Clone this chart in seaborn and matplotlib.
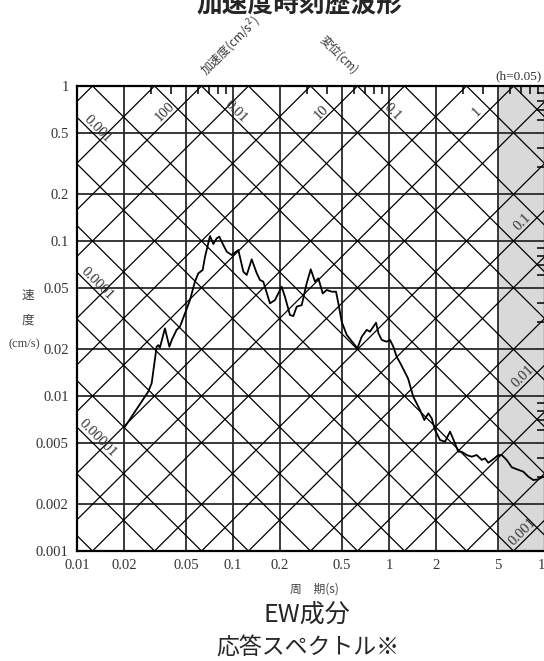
import numpy as np
import pandas as pd
import matplotlib
matplotlib.use('Agg')
import matplotlib.pyplot as plt
from matplotlib.ticker import LogLocator, NullFormatter
import seaborn as sns

# velocity response spectrum (h=0.05)
period = [0.0203, 0.0286, 0.0301, 0.0324, 0.0332, 0.0340, 0.0366, 0.0391, 0.0405, 0.0435,
          0.0457, 0.0492, 0.0530, 0.0570, 0.0599, 0.0639, 0.0662, 0.0712, 0.0748, 0.0786,
          0.0817, 0.0867, 0.0912, 0.0982, 0.1082, 0.1165, 0.1225, 0.1318, 0.1419, 0.1489,
          0.1564, 0.1726, 0.1858, 0.205, 0.2153, 0.2318, 0.2437, 0.256, 0.2757, 0.2967,
          0.315, 0.3354, 0.3526, 0.376, 0.399, 0.4297, 0.4576, 0.4735, 0.4977, 0.5357,
          0.5907, 0.6266, 0.6683, 0.7195, 0.7551, 0.8258, 0.856, 0.898, 0.966, 1.015,
          1.066, 1.12, 1.177, 1.324, 1.431, 1.58, 1.684, 1.786, 1.878, 1.972,
          2.124, 2.287, 2.462, 2.65, 2.78, 2.92, 3.15, 3.39, 3.65, 3.93,
          4.12, 4.33, 4.66, 5.02, 5.28, 5.68, 6.12, 6.59, 7.26, 7.82,
          8.41, 9.06, 9.75]
velocity = [0.00634, 0.01066, 0.01208, 0.0208, 0.0213, 0.0205, 0.0273, 0.0208, 0.0230, 0.0267,
            0.0280, 0.0341, 0.0416, 0.0547, 0.0618, 0.0650, 0.0792, 0.1077, 0.0957, 0.104,
            0.1066, 0.0942, 0.0853, 0.0812, 0.0875, 0.0634, 0.0604, 0.0762, 0.062, 0.056,
            0.0547, 0.0396, 0.0416, 0.0507, 0.0437, 0.0333, 0.0328, 0.0377, 0.0386, 0.0533,
            0.0657, 0.0547, 0.0574, 0.0459, 0.0483, 0.0471, 0.0471, 0.0396, 0.0301, 0.0248,
            0.0219, 0.0203, 0.0241, 0.0267, 0.0260, 0.0297, 0.0254, 0.0230, 0.0224, 0.0230,
            0.0208, 0.0179, 0.0164, 0.0130, 0.00989, 0.00813, 0.0070, 0.00773, 0.00718, 0.00604,
            0.0052, 0.00507, 0.00589, 0.00495, 0.00437, 0.00437, 0.00416, 0.00406, 0.00416, 0.00387,
            0.00396, 0.00371, 0.00391, 0.00416, 0.00416, 0.00387, 0.00347, 0.00337, 0.00325, 0.00302,
            0.00287, 0.0029, 0.00302]

x_ticks = [0.01, 0.02, 0.05, 0.1, 0.2, 0.5, 1, 2, 5, 10]
x_tick_labels = ['0.01', '0.02', '0.05', '0.1', '0.2', '0.5', '1', '2', '5', '10']
y_ticks = [0.001, 0.002, 0.005, 0.01, 0.02, 0.05, 0.1, 0.2, 0.5, 1]
y_tick_labels = ['0.001', '0.002', '0.005', '0.01', '0.02', '0.05', '0.1', '0.2', '0.5', '1']

# tripartite diagonals: acceleration (cm/s^2) and displacement (cm)
accel_lines = [m * 10.0 ** k for k in range(-4, 3) for m in (1, 2, 5)]
disp_lines = [m * 10.0 ** k for k in range(-6, 1) for m in (1, 2, 5)]
accel_top = [100, 10, 1]
accel_top_labels = ['100', '10', '1']
accel_right = [0.1, 0.01, 0.001]
accel_right_labels = ['0.1', '0.01', '0.001']
disp_left = [0.001, 0.0001, 0.00001]
disp_left_labels = ['0.001', '0.0001', '0.00001']
disp_top = [0.01, 0.1]
disp_top_labels = ['0.01', '0.1']

df = pd.DataFrame({'period': period, 'velocity': velocity})

sns.set_style('white')
plt.rcParams['font.family'] = ['Liberation Serif', 'Noto Sans CJK JP', 'DejaVu Sans']
jp = ['Noto Sans CJK JP', 'DejaVu Sans']

W, H = 544, 661
fig = plt.figure(figsize=(W / 100, H / 100), dpi=100)
ax = fig.add_axes([77 / W, 1 - 551 / H, (545 - 77) / W, (551 - 86) / H])
ax.set_xscale('log')
ax.set_yscale('log')
ax.set_xlim(0.01, 10)
ax.set_ylim(0.001, 1)

ax.axvspan(5, 10, color='#d9d9d9', zorder=0.2, lw=0)

# horizontal / vertical grid
for t in x_ticks[1:-1]:
    ax.axvline(t, color='#2a2a2a', lw=1.3, zorder=1)
for v in y_ticks[1:-1]:
    ax.axhline(v, color='#2a2a2a', lw=1.3, zorder=1)

T = np.array([0.01, 10.0])
for a in accel_lines:
    ax.plot(T, a * T / (2 * np.pi), color='black', lw=0.9, zorder=1.5)
for d in disp_lines:
    ax.plot(T, 2 * np.pi * d / T, color='black', lw=0.9, zorder=1.5)

lab_kw = dict(fontsize=10.5, color='#333333', ha='center', va='center', rotation_mode='anchor', zorder=3)
for a, s in zip(accel_top, accel_top_labels):
    sv = 0.68
    ax.text(2 * np.pi * sv / a / 1.16, sv, s, rotation=45, **lab_kw)
for a, s in zip(accel_right, accel_right_labels):
    t = 7.2
    ax.text(t, a * t / (2 * np.pi) * 1.16, s, rotation=45, **lab_kw)
for d, s in zip(disp_left, disp_left_labels):
    t = 0.0135
    ax.text(t, 2 * np.pi * d / t * 1.14, s, rotation=-45, **lab_kw)
for d, s in zip(disp_top, disp_top_labels):
    sv = 0.68
    ax.text(2 * np.pi * d / sv * 1.14, sv, s, rotation=-45, **lab_kw)

sns.lineplot(data=df, x='period', y='velocity', ax=ax, color='black', lw=1.3,
             estimator=None, sort=False, zorder=4)

ax.set_xticks(x_ticks)
ax.set_xticklabels(x_tick_labels)
ax.set_yticks(y_ticks)
ax.set_yticklabels(y_tick_labels)
ax.xaxis.set_minor_locator(LogLocator(base=10, subs=(3, 4, 6, 7, 8, 9)))
ax.yaxis.set_minor_locator(LogLocator(base=10, subs=(3, 4, 6, 7, 8, 9)))
ax.xaxis.set_minor_formatter(NullFormatter())
ax.yaxis.set_minor_formatter(NullFormatter())
ax.tick_params(which='both', direction='in', top=True, right=True, colors='black',
               labelcolor='#333333', labelsize=10.5)
ax.tick_params(which='major', length=0, pad=6)
ax.tick_params(which='minor', length=5.5, width=1.1)
ax.set_xlabel('')
ax.set_ylabel('')
for sp in ax.spines.values():
    sp.set_color('black')
    sp.set_linewidth(1.6)

def ftext(x, y, s, **kw):
    fig.text(x / W, 1 - y / H, s, **kw)

ftext(300, 11, '加速度時刻歴波形', ha='center', va='baseline', fontsize=18.5,
      fontweight='bold', family=jp)
ftext(231, 46, '加速度(cm/s$^2$)', ha='center', va='center', rotation=45, fontsize=8.5,
      color='#333333', family=jp)
ftext(339, 55, '変位(cm)', ha='center', va='center', rotation=-45, fontsize=8.5,
      color='#333333', family=jp)
ftext(519, 76, '(h=0.05)', ha='center', va='center', fontsize=9.5, color='#333333')
ftext(28, 295, '速', ha='center', va='center', fontsize=9, color='#444444', family=jp)
ftext(28, 320, '度', ha='center', va='center', fontsize=9, color='#444444', family=jp)
ftext(24, 344, '(cm/s)', ha='center', va='center', fontsize=9, color='#444444')
ftext(314, 589, '周\u3000期(s)', ha='center', va='center', fontsize=8.5, color='#444444', family=jp)
ftext(307, 615, 'EW成分', ha='center', va='center', fontsize=18, family=jp)
ftext(308, 648, '応答スペクトル※', ha='center', va='center', fontsize=16.5, family=jp)

fig.savefig('out.png', dpi=100)
